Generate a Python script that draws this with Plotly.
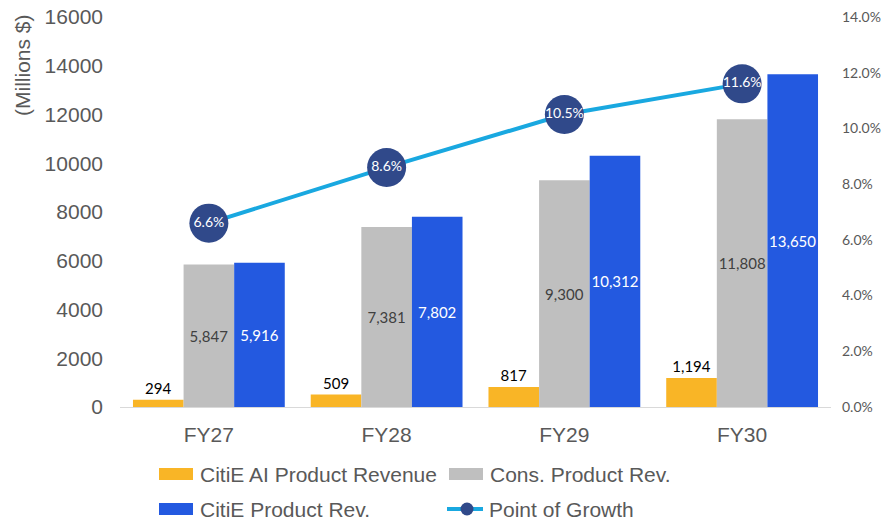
import plotly.graph_objects as go

# chart data
years = ["FY27", "FY28", "FY29", "FY30"]
ai_product_rev = [294, 509, 817, 1194]
cons_product_rev = [5847, 7381, 9300, 11808]
citie_product_rev = [5916, 7802, 10312, 13650]
growth_pct = [0.066, 0.086, 0.105, 0.116]

left_ticks = [0, 2000, 4000, 6000, 8000, 10000, 12000, 14000, 16000]
right_ticks = [0, 0.02, 0.04, 0.06, 0.08, 0.10, 0.12, 0.14]

YELLOW = "#F9B526"
GRAY = "#BFBFBF"
BLUE = "#2359E0"
NAVY = "#30498A"
LINE_BLUE = "#19A8E0"
TEXT_GRAY = "#595959"

AXIS_FONT = "Liberation Sans, Arial, sans-serif"
LABEL_FONT = "Lato, Open Sans, sans-serif"

W, H = 895, 525
PLOT_L, PLOT_R, PLOT_T, PLOT_B = 120, 831, 17, 407


def paper_x(px):
    '''Pixel column -> paper x.'''
    return (px - PLOT_L) / (PLOT_R - PLOT_L)


def paper_y(py):
    '''Pixel row -> paper y.'''
    return (PLOT_B - py) / (PLOT_B - PLOT_T)


fig = go.Figure()

fig.add_trace(go.Bar(
    x=years, y=ai_product_rev, name="CitiE AI Product Revenue",
    marker=dict(color=YELLOW, line=dict(width=0)),
    texttemplate="%{y:,}", textposition="outside", cliponaxis=False,
    textfont=dict(family=LABEL_FONT, size=15, color="#000000"),
    showlegend=False,
))
fig.add_trace(go.Bar(
    x=years, y=cons_product_rev, name="Cons. Product Rev.",
    marker=dict(color=GRAY, line=dict(width=0)),
    texttemplate="%{y:,}", textposition="inside", insidetextanchor="middle",
    textangle=0, constraintext="none",
    textfont=dict(family=LABEL_FONT, size=15, color="#404040"),
    showlegend=False,
))
fig.add_trace(go.Bar(
    x=years, y=citie_product_rev, name="CitiE Product Rev.",
    marker=dict(color=BLUE, line=dict(width=0)),
    texttemplate="%{y:,}", textposition="inside", insidetextanchor="middle",
    textangle=0, constraintext="none",
    textfont=dict(family=LABEL_FONT, size=15, color="#FFFFFF"),
    showlegend=False,
))
fig.add_trace(go.Scatter(
    x=years, y=growth_pct, name="Point of Growth", yaxis="y2",
    mode="lines+markers+text",
    line=dict(color=LINE_BLUE, width=4),
    marker=dict(color=NAVY, size=39, line=dict(width=0)),
    text=[f"{v * 100:.1f}%" for v in growth_pct],
    textposition="middle center",
    textfont=dict(family=LABEL_FONT, size=14, color="#FFFFFF"),
    cliponaxis=False, showlegend=False,
))

# hand-drawn legend so the swatches are wide like the original
legend_items = [
    ("CitiE AI Product Revenue", YELLOW, "bar", 159, 474),
    ("Cons. Product Rev.", GRAY, "bar", 449, 474),
    ("CitiE Product Rev.", BLUE, "bar", 159, 509),
    ("Point of Growth", LINE_BLUE, "line", 447, 509),
]
shapes = []
annotations = []
for label, color, kind, sx, sy in legend_items:
    if kind == "bar":
        shapes.append(dict(type="rect", xref="paper", yref="paper",
                           x0=paper_x(sx), x1=paper_x(sx + 34),
                           y0=paper_y(sy + 6), y1=paper_y(sy - 6),
                           fillcolor=color, line=dict(width=0)))
    else:
        shapes.append(dict(type="line", xref="paper", yref="paper",
                           x0=paper_x(sx), x1=paper_x(sx + 36),
                           y0=paper_y(sy), y1=paper_y(sy),
                           line=dict(color=color, width=4)))
        shapes.append(dict(type="circle", xref="paper", yref="paper",
                           x0=paper_x(sx + 13.5), x1=paper_x(sx + 26.5),
                           y0=paper_y(sy + 6.5), y1=paper_y(sy - 6.5),
                           fillcolor=NAVY, line=dict(width=0)))
    text_x = sx + 39 if kind == "bar" else sx + 40
    annotations.append(dict(xref="paper", yref="paper", x=paper_x(text_x), y=paper_y(sy),
                            xanchor="left", yanchor="middle", showarrow=False, text=label,
                            font=dict(family=AXIS_FONT, size=21, color=TEXT_GRAY)))

# axis title sits at the top of the axis, not centred
annotations.append(dict(xref="paper", yref="paper", x=paper_x(22), y=paper_y(65),
                        xanchor="center", yanchor="middle", showarrow=False,
                        text="(Millions $)", textangle=-90,
                        font=dict(family=AXIS_FONT, size=21, color=TEXT_GRAY)))

fig.update_layout(
    width=W, height=H,
    margin=dict(l=PLOT_L, r=W - PLOT_R, t=PLOT_T, b=H - PLOT_B, autoexpand=False),
    paper_bgcolor="white", plot_bgcolor="white",
    barmode="group", bargap=0.146, bargroupgap=0,
    showlegend=False,
    xaxis=dict(
        showgrid=False, showline=True, linecolor="#D9D9D9", linewidth=1,
        ticks="", ticklabelstandoff=9,
        tickfont=dict(family=AXIS_FONT, size=21, color=TEXT_GRAY),
    ),
    yaxis=dict(
        range=[0, 16000], tickvals=left_ticks, tickformat="d",
        showgrid=False, zeroline=False, showline=False, ticks="",
        ticklabelstandoff=16,
        tickfont=dict(family=AXIS_FONT, size=21, color=TEXT_GRAY),
    ),
    yaxis2=dict(
        overlaying="y", side="right", range=[0, 0.14], tickvals=right_ticks,
        tickformat=".1%", showgrid=False, zeroline=False, showline=False, ticks="",
        ticklabelstandoff=10,
        tickfont=dict(family=LABEL_FONT, size=14, color=TEXT_GRAY),
    ),
    shapes=shapes,
    annotations=annotations,
)

# the page's default body margin would push the figure 8px off the window
fig.write_html("out.html", config={"displayModeBar": False},
               post_script="document.body.style.margin = '0';")
